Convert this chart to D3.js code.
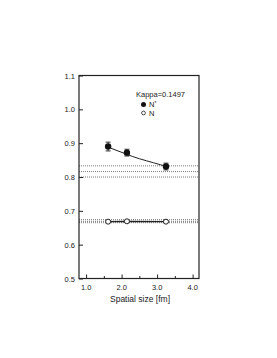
<!DOCTYPE html>
<html>
<head>
<meta charset="utf-8">
<script src="https://cdn.jsdelivr.net/npm/d3@7"></script>
<style>
  body { margin: 0; background: #fff; }
  text { font-family: "Liberation Sans", Arial, sans-serif; }
</style>
</head>
<body>
<div id="chart"></div>
<script>
// N* (filled) and N (open) masses vs spatial size
const sizes = [1.62, 2.15, 3.25];
const nStar = [0.890, 0.872, 0.831];
const nStarErr = [0.013, 0.010, 0.010];
const nucleon = [0.668, 0.669, 0.668];
const nucleonErr = [0.003, 0.003, 0.003];

// fitted curve through N* points
const fitX = [1.70, 1.90, 2.10, 2.30, 2.50, 2.70, 2.90, 3.10, 3.25];
const fitY = [0.885, 0.877, 0.869, 0.861, 0.854, 0.848, 0.842, 0.836, 0.832];

// infinite-volume bands (value, upper, lower)
const nStarBand = [0.833, 0.816, 0.800];
const nucleonBand = [0.674, 0.669, 0.665];

const xTicks = [1.0, 2.0, 3.0, 4.0];
const xMinor = [1.5, 2.5, 3.5];
const yTicks = [0.5, 0.6, 0.7, 0.8, 0.9, 1.0, 1.1];

const width = 277;
const height = 358;
const plotL = 79, plotR = 199, plotT = 75.5, plotB = 278.5;
const ink = '#222';

const x = d3.scaleLinear().domain([0.8, 4.18]).range([plotL, plotR]);
const y = d3.scaleLinear().domain([0.5, 1.1]).range([plotB, plotT]);

const svg = d3.select('#chart').append('svg')
  .attr('width', width)
  .attr('height', height);

// dotted bands
const bands = svg.append('g');
bands.selectAll('line')
  .data(nStarBand.concat(nucleonBand))
  .enter()
  .append('line')
  .attr('x1', plotL)
  .attr('x2', plotR)
  .attr('y1', d => y(d))
  .attr('y2', d => y(d))
  .attr('stroke', '#555')
  .attr('stroke-width', 0.8)
  .attr('stroke-dasharray', '1,1');

// frame
svg.append('rect')
  .attr('x', plotL)
  .attr('y', plotT)
  .attr('width', plotR - plotL)
  .attr('height', plotB - plotT)
  .attr('fill', 'none')
  .attr('stroke', ink)
  .attr('stroke-width', 1.2);

// axes with inward ticks
const xAxis = d3.axisTop(x).tickValues(xTicks).tickSize(4).tickFormat('');
svg.append('g')
  .attr('transform', `translate(0,${plotB})`)
  .call(xAxis)
  .call(g => g.select('.domain').remove());

svg.append('g')
  .attr('transform', `translate(0,${plotB})`)
  .call(d3.axisTop(x).tickValues(xMinor).tickSize(2.5).tickFormat(''))
  .call(g => g.select('.domain').remove());

svg.append('g')
  .selectAll('text')
  .data(xTicks)
  .enter()
  .append('text')
  .attr('x', d => x(d))
  .attr('y', plotB + 11)
  .attr('text-anchor', 'middle')
  .attr('font-size', 7.5)
  .attr('fill', ink)
  .text(d => d.toFixed(1));

const yAxis = d3.axisRight(y).tickValues(yTicks).tickSize(4).tickFormat('');
svg.append('g')
  .attr('transform', `translate(${plotL},0)`)
  .call(yAxis)
  .call(g => g.select('.domain').remove());

svg.append('g')
  .selectAll('text')
  .data(yTicks)
  .enter()
  .append('text')
  .attr('x', plotL - 4)
  .attr('y', d => y(d) + 3)
  .attr('text-anchor', 'end')
  .attr('font-size', 7.5)
  .attr('fill', ink)
  .text(d => d.toFixed(1));

svg.selectAll('.tick line').attr('stroke', ink);

// fit curve
const line = d3.line().x(d => x(d[0])).y(d => y(d[1])).curve(d3.curveMonotoneX);
svg.append('path')
  .datum(fitX.map((v, i) => [v, fitY[i]]))
  .attr('d', line)
  .attr('fill', 'none')
  .attr('stroke', ink)
  .attr('stroke-width', 1);

// nucleon connecting line
svg.append('path')
  .datum(sizes.map((v, i) => [v, nucleon[i]]))
  .attr('d', d3.line().x(d => x(d[0])).y(d => y(d[1])))
  .attr('fill', 'none')
  .attr('stroke', ink)
  .attr('stroke-width', 1.2);

// error bars
const drawErr = (vals, errs) => {
  const g = svg.append('g').attr('stroke', ink).attr('stroke-width', 0.9);
  sizes.forEach((s, i) => {
    g.append('line')
      .attr('x1', x(s)).attr('x2', x(s))
      .attr('y1', y(vals[i] - errs[i])).attr('y2', y(vals[i] + errs[i]));
    [vals[i] - errs[i], vals[i] + errs[i]].forEach(v => {
      g.append('line')
        .attr('x1', x(s) - 2.5).attr('x2', x(s) + 2.5)
        .attr('y1', y(v)).attr('y2', y(v));
    });
  });
};
drawErr(nStar, nStarErr);
drawErr(nucleon, nucleonErr);

svg.append('g')
  .selectAll('circle')
  .data(sizes)
  .enter()
  .append('circle')
  .attr('cx', d => x(d))
  .attr('cy', (d, i) => y(nStar[i]))
  .attr('r', 3.2)
  .attr('fill', '#111');

svg.append('g')
  .selectAll('circle')
  .data(sizes)
  .enter()
  .append('circle')
  .attr('cx', d => x(d))
  .attr('cy', (d, i) => y(nucleon[i]))
  .attr('r', 2.5)
  .attr('fill', '#fff')
  .attr('stroke', ink)
  .attr('stroke-width', 1);

// legend
svg.append('text')
  .attr('x', 136)
  .attr('y', 97)
  .attr('font-size', 7.5)
  .attr('fill', ink)
  .text('Kappa=0.1497');

svg.append('circle').attr('cx', 143.5).attr('cy', 104.5).attr('r', 2.5).attr('fill', '#111');
const ns = svg.append('text').attr('x', 149).attr('y', 107.3).attr('font-size', 7.5).attr('fill', ink);
ns.append('tspan').text('N');
ns.append('tspan').attr('font-size', 5).attr('dy', -2.5).text('*');

svg.append('circle').attr('cx', 143.5).attr('cy', 113).attr('r', 1.9)
  .attr('fill', '#fff').attr('stroke', ink).attr('stroke-width', 0.8);
svg.append('text').attr('x', 149).attr('y', 116).attr('font-size', 7.5).attr('fill', ink).text('N');

// x label
svg.append('text')
  .attr('x', 140)
  .attr('y', 302)
  .attr('text-anchor', 'middle')
  .attr('font-size', 8.5)
  .attr('fill', ink)
  .text('Spatial size [fm]');
</script>
</body>
</html>
